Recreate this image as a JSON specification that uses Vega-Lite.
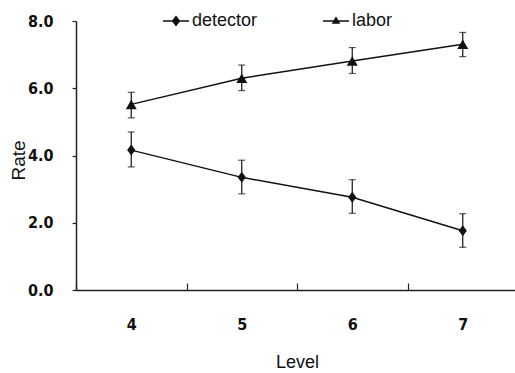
{
  "$schema": "https://vega.github.io/schema/vega-lite/v6.json",
  "autosize": "none",
  "width": 442,
  "height": 269,
  "padding": {"left": 76, "top": 21, "right": 0, "bottom": 83},
  "background": "white",
  "data": {
    "values": [
      {"series": "detector", "level": "4", "rate": 4.16, "lo": 3.66, "hi": 4.70},
      {"series": "detector", "level": "5", "rate": 3.35, "lo": 2.86, "hi": 3.86},
      {"series": "detector", "level": "6", "rate": 2.76, "lo": 2.28, "hi": 3.28},
      {"series": "detector", "level": "7", "rate": 1.76, "lo": 1.27, "hi": 2.27},
      {"series": "labor", "level": "4", "rate": 5.52, "lo": 5.12, "hi": 5.88},
      {"series": "labor", "level": "5", "rate": 6.30, "lo": 5.93, "hi": 6.69},
      {"series": "labor", "level": "6", "rate": 6.81, "lo": 6.44, "hi": 7.21},
      {"series": "labor", "level": "7", "rate": 7.31, "lo": 6.94, "hi": 7.66}
    ]
  },
  "encoding": {
    "x": {
      "field": "level",
      "type": "ordinal",
      "scale": {"type": "band", "paddingInner": 0, "paddingOuter": 0},
      "axis": {
        "title": "Level",
        "labelAngle": 0,
        "tickBand": "extent",
        "tickSize": -7,
        "labelPadding": 33,
        "labelFont": "Liberation Sans Narrow, Arial Narrow, DejaVu Sans Condensed, sans-serif",
        "labelFontWeight": "bold",
        "labelFontSize": 16,
        "labelColor": "#111",
        "titleFont": "Liberation Sans, Arial, sans-serif",
        "titleFontSize": 18,
        "titleFontWeight": "normal",
        "titleColor": "#111",
        "titleBaseline": "middle",
        "titleY": 72,
        "domainColor": "#222",
        "domainWidth": 1.5,
        "tickColor": "#222",
        "tickWidth": 1.2,
        "grid": false
      }
    }
  },
  "layer": [
    {
      "mark": {"type": "line", "color": "#111", "strokeWidth": 1.5},
      "encoding": {
        "y": {
          "field": "rate",
          "type": "quantitative",
          "scale": {"domain": [0, 8]},
          "axis": {
            "title": "Rate",
            "values": [0, 2, 4, 6, 8],
            "format": ".1f",
            "tickSize": 4,
            "labelPadding": 19,
            "labelFont": "Liberation Sans Narrow, Arial Narrow, DejaVu Sans Condensed, sans-serif",
            "labelFontWeight": "bold",
            "labelFontSize": 16,
            "labelColor": "#111",
            "titleFont": "Liberation Sans, Arial, sans-serif",
            "titleFontSize": 19,
            "titleFontWeight": "normal",
            "titleColor": "#111",
            "titleAngle": -90,
            "titleAlign": "center",
            "titleBaseline": "middle",
            "titleX": -58,
            "titleY": 139,
            "domainColor": "#222",
            "domainWidth": 1.5,
            "tickColor": "#222",
            "tickWidth": 1.2,
            "grid": false
          }
        },
        "detail": {"field": "series"}
      }
    },
    {
      "mark": {"type": "rule", "color": "#111", "strokeWidth": 1.2},
      "encoding": {
        "y": {"field": "lo", "type": "quantitative"},
        "y2": {"field": "hi"}
      }
    },
    {
      "mark": {"type": "tick", "color": "#111", "size": 7, "thickness": 1.2},
      "encoding": {"y": {"field": "lo", "type": "quantitative"}}
    },
    {
      "mark": {"type": "tick", "color": "#111", "size": 7, "thickness": 1.2},
      "encoding": {"y": {"field": "hi", "type": "quantitative"}}
    },
    {
      "mark": {"type": "point", "filled": true, "color": "#111", "opacity": 1, "size": 121},
      "encoding": {
        "y": {"field": "rate", "type": "quantitative"},
        "shape": {
          "field": "series",
          "type": "nominal",
          "scale": {"domain": ["detector", "labor"], "range": ["M0,-1L0.75,0L0,1L-0.75,0Z", "triangle-up"]},
          "legend": null
        }
      }
    },
    {
      "mark": {"type": "point", "filled": true, "color": "#111", "opacity": 0, "size": 0},
      "encoding": {
        "y": {"field": "rate", "type": "quantitative"},
        "shape": {
          "field": "series",
          "type": "nominal",
          "scale": {"domain": ["detector", "labor"], "range": ["M-1,-0.05L1,-0.05L1,0.05L-1,0.05ZM0,-0.42L0.33,0L0,0.42L-0.33,0Z", "M-1,-0.05L1,-0.05L1,0.05L-1,0.05ZM-0.33,0.22L0,-0.36L0.33,0.22Z"]},
          "legend": {
            "title": null,
            "orient": "none",
            "legendX": 86,
            "legendY": -14,
            "direction": "horizontal",
            "padding": 0,
            "columnPadding": 62,
            "symbolSize": 676,
            "symbolFillColor": "#111",
            "symbolOpacity": 1,
            "labelOffset": 2,
            "labelFont": "Liberation Sans, Arial, sans-serif",
            "labelFontSize": 18,
            "labelColor": "#111"
          }
        }
      }
    }
  ],
  "resolve": {"scale": {"shape": "independent"}, "legend": {"shape": "independent"}},
  "config": {
    "view": {"stroke": null}
  }
}
